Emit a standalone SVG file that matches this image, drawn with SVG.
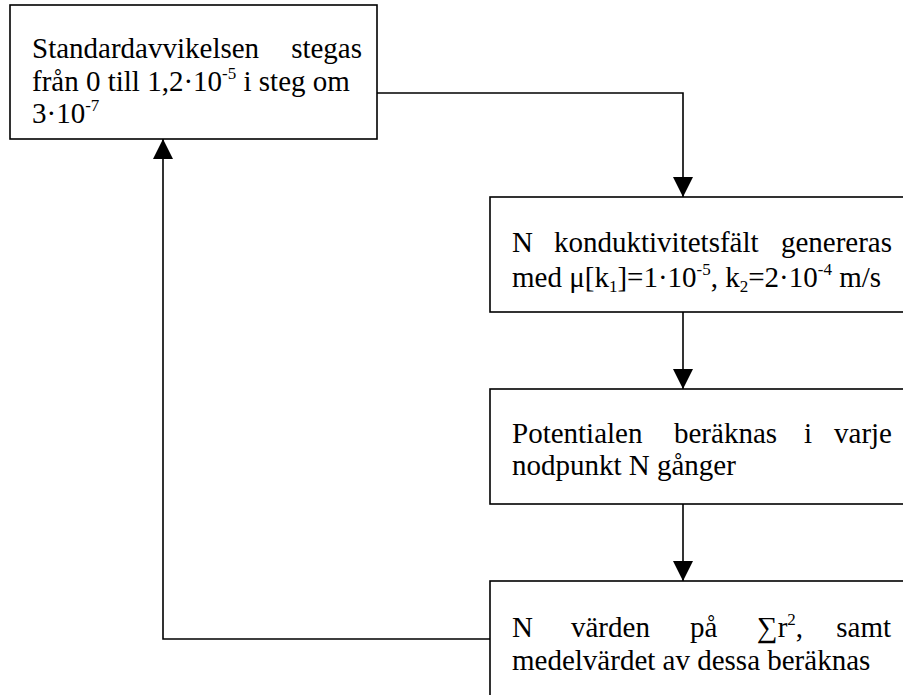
<svg xmlns="http://www.w3.org/2000/svg" width="903" height="695" viewBox="0 0 903 695">
<style>
.box{fill:#fff;stroke:#000;stroke-width:1.6}
.t{font-family:"Liberation Serif","Times New Roman",serif;font-size:29px;fill:#000}
.sup{font-size:17px}
.conn{fill:none;stroke:#000;stroke-width:1.6}
</style>
<defs>
<marker id="ah" markerUnits="userSpaceOnUse" markerWidth="20" markerHeight="20" viewBox="0 0 20 20" refX="20" refY="10" orient="auto">
<path d="M0,0 L20,10 L0,20 Z" fill="#000"/>
</marker>
</defs>
<rect width="903" height="695" fill="#fff"/>
<g id="connectors">
<polyline class="conn" points="377,93 683,93 683,197" marker-end="url(#ah)"/>
<polyline class="conn" points="683,312 683,389" marker-end="url(#ah)"/>
<polyline class="conn" points="683,504 683,581" marker-end="url(#ah)"/>
<polyline class="conn" points="491,639 163,639 163,139" marker-end="url(#ah)"/>
</g>
<g id="node1">
<rect class="box" x="10" y="5" width="367" height="134"/>
<text class="t" x="32" y="58">Standardavvikelsen</text>
<text class="t" x="362" y="58" text-anchor="end">stegas</text>
<text class="t" x="32" y="91">från 0 till 1,2·10<tspan class="sup" dy="-12">-5</tspan><tspan dy="12"> i steg om</tspan></text>
<text class="t" x="32" y="123">3·10<tspan class="sup" dy="-12">-7</tspan></text>
</g>
<g id="node2">
<rect class="box" x="490" y="197" width="430" height="115"/>
<text class="t" x="512" y="252">N</text>
<text class="t" x="554" y="252">konduktivitetsfält</text>
<text class="t" x="892" y="252" text-anchor="end">genereras</text>
<text class="t" x="512" y="287">med μ[k<tspan class="sup" dy="5">1</tspan><tspan dy="-5">]=1·10</tspan><tspan class="sup" dy="-12">-5</tspan><tspan dy="12">, k</tspan><tspan class="sup" dy="5">2</tspan><tspan dy="-5">=2·10</tspan><tspan class="sup" dy="-12">-4</tspan><tspan dy="12"> m/s</tspan></text>
</g>
<g id="node3">
<rect class="box" x="490" y="389" width="430" height="115"/>
<text class="t" x="512" y="443">Potentialen</text>
<text class="t" x="674" y="443">beräknas</text>
<text class="t" x="804" y="443">i</text>
<text class="t" x="892" y="443" text-anchor="end">varje</text>
<text class="t" x="512" y="475">nodpunkt N gånger</text>
</g>
<g id="node4">
<rect class="box" x="490" y="581" width="430" height="140"/>
<text class="t" x="512" y="637">N</text>
<text class="t" x="571" y="637">värden</text>
<text class="t" x="690" y="637">på</text>
<text class="t" x="757" y="637">∑r<tspan class="sup" dy="-12">2</tspan><tspan dy="12">,</tspan></text>
<text class="t" x="891" y="637" text-anchor="end">samt</text>
<text class="t" x="512" y="670">medelvärdet av dessa beräknas</text>
</g>
</svg>
